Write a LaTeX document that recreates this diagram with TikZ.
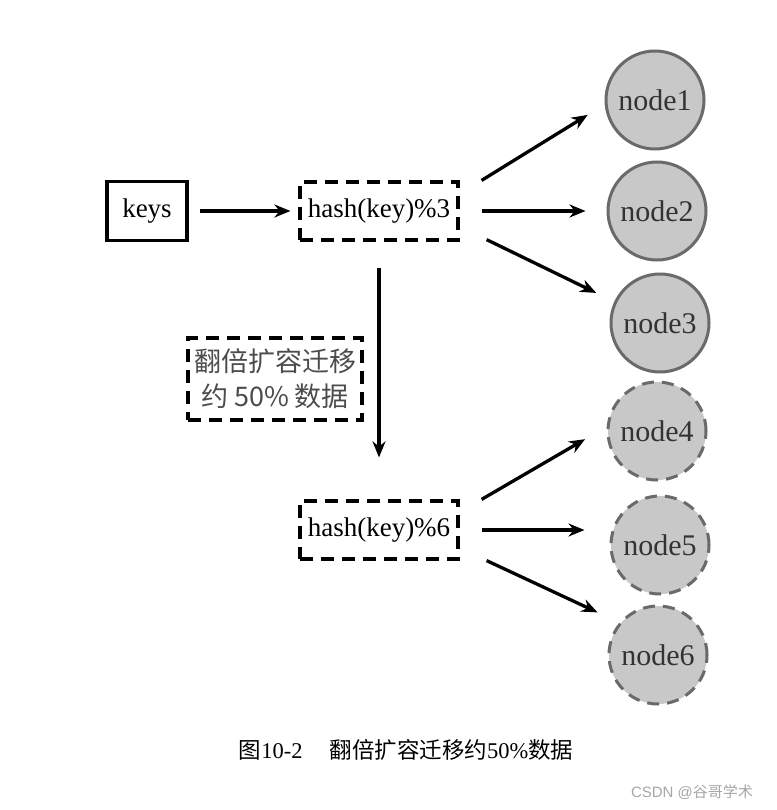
\documentclass[tikz,border=0pt]{standalone}
\usepackage{fontspec}
\setmainfont{Liberation Serif}
\setsansfont{Liberation Sans}
\newfontfamily\cjk{Noto Sans CJK SC}
\usepackage{tikz}
\usetikzlibrary{arrows.meta}
\definecolor{nodefill}{HTML}{C8C8C8}
\definecolor{nodeline}{HTML}{6A6A6A}

\begin{document}
\begin{tikzpicture}[x=1pt,y=-1pt,>={Stealth[length=16pt,width=13pt]},
		line width=3.3pt,
		key box/.style={draw,line width=3.2pt,minimum width=80pt,minimum height=59pt,font=\fontsize{27}{30}\selectfont},
		hash box/.style={draw,line width=3.2pt,dash pattern=on 13pt off 8pt,minimum width=158pt,minimum height=58pt,inner sep=2pt,font=\fontsize{27}{30}\selectfont},
		note box/.style={draw,line width=3.2pt,dash pattern=on 13pt off 8pt,minimum width=174pt,minimum height=82pt,inner sep=2pt,align=center,text=black!70,font=\cjk\fontsize{27}{35}\selectfont},
		old node/.style={circle,draw=nodeline,fill=nodefill,line width=3pt,minimum size=98pt,inner sep=0pt,text=black!80,font=\fontsize{30}{30}\selectfont},
		new node/.style={old node,dash pattern=on 12pt off 8pt}]
		\useasboundingbox (0,0) rectangle (776,810);
		\node[key box] (keys) at (147,211) {keys};
		\node[hash box] (h3) at (379,211) {hash(key)\%3};
		\node[hash box] (h6) at (379,530) {hash(key)\%6};
		\node[note box] (note) at (275,379) {翻倍扩容迁移\\约 50\% 数据};
		\node[old node] (n1) at (655,100) {node1};
		\node[old node] (n2) at (657,211) {node2};
		\node[old node] (n3) at (660,323) {node3};
		\node[new node] (n4) at (657,431) {node4};
		\node[new node] (n5) at (660,545) {node5};
		\node[new node] (n6) at (658,655) {node6};
		\path[->]
		(keys) edge[shorten <=11pt,shorten >=8pt] (h3)
		
		([xshift=22pt]h3.north east) edge[shorten >=20pt] (n1.185)
		(h3.east) edge[shorten <=22pt,shorten >=21pt] (n2.west)
		([xshift=27pt,yshift=2pt]h3.south east) edge[shorten >=20pt] (n3.155)
		
		(h3.south) edge[shorten <=26pt,shorten >=42pt] (h6.north)
		
		([xshift=22pt]h6.north east) edge[shorten >=25pt] (n4.175)
		(h6.east) edge[shorten <=22pt,shorten >=25pt] (h6.east -| n5.west)
		([xshift=27pt]h6.south east) edge[shorten >=24pt] (n6.140);
		\node[font=\fontsize{22.5}{26}\selectfont] (caption) at (406,750)
		{{\cjk 图}10-2\hspace{1.2em}{\cjk 翻倍扩容迁移约}50\%{\cjk 数据}};
		\node[text=black!35,font=\sffamily\fontsize{15}{16}\selectfont] (mark) at (692,792) {CSDN @{\cjk 谷哥学术}};
		\end{tikzpicture}
\end{document}
